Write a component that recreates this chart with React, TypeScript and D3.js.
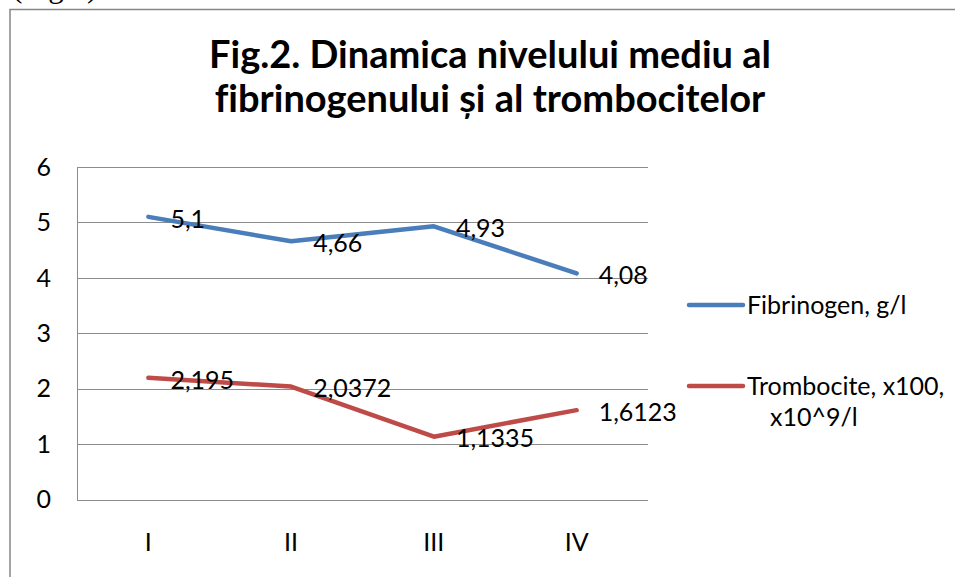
import React, { useEffect, useRef } from "react";
import * as d3 from "d3";

const categories = ["I", "II", "III", "IV"];
const fibrinogen = [5.1, 4.66, 4.93, 4.08];
const trombocite = [2.195, 2.0372, 1.1335, 1.6123];
const yTicks = [0, 1, 2, 3, 4, 5, 6];
const titleLines = ["Fig.2. Dinamica nivelului mediu al", "fibrinogenului și al trombocitelor"];
const seriesNames = ["Fibrinogen, g/l", "Trombocite, x100,"];

const FONT = "Lato, 'Open Sans', sans-serif";

function App() {
  const svgRef = useRef<SVGSVGElement>(null);

  useEffect(() => {
    const width = 955;
    const height = 577;
    const plot = { left: 77, right: 648, top: 167, bottom: 499.5 };

    const svg = d3.select(svgRef.current);
    svg.selectAll("*").remove();
    svg.attr("width", width).attr("height", height);

    svg.append("rect").attr("width", width).attr("height", height).attr("fill", "#fff");

    // text of the page above the figure, cut by the crop
    svg
      .append("text")
      .attr("x", 12)
      .attr("y", -3)
      .attr("font-family", "'Liberation Serif', 'Times New Roman', serif")
      .attr("font-size", 31)
      .attr("fill", "#000")
      .text("(Fig.2)");

    // chart frame
    svg
      .append("rect")
      .attr("x", 10)
      .attr("y", 9.5)
      .attr("width", 1000)
      .attr("height", 1000)
      .attr("fill", "none")
      .attr("stroke", "#868686")
      .attr("stroke-width", 1.5);

    // title
    svg
      .append("g")
      .selectAll("text")
      .data(titleLines)
      .enter()
      .append("text")
      .attr("x", 490)
      .attr("y", (d, i) => 68 + i * 44)
      .attr("text-anchor", "middle")
      .attr("font-family", FONT)
      .attr("font-weight", "bold")
      .attr("font-size", 38)
      .style("font-variant-ligatures", "none")
      .attr("fill", "#000")
      .text((d) => d);

    const x = d3
      .scalePoint()
      .domain(categories)
      .range([plot.left, plot.right])
      .padding(0.5);

    const y = d3.scaleLinear().domain([0, 6]).range([plot.bottom, plot.top]);

    // gridlines
    svg
      .append("g")
      .selectAll("line")
      .data(yTicks.filter((t) => t > 0))
      .enter()
      .append("line")
      .attr("x1", plot.left)
      .attr("x2", plot.right)
      .attr("y1", (d) => Math.round(y(d)) + 0.5)
      .attr("y2", (d) => Math.round(y(d)) + 0.5)
      .attr("stroke", "#8c8c8c")
      .attr("stroke-width", 1);

    // axes lines
    svg
      .append("line")
      .attr("x1", plot.left + 0.5)
      .attr("x2", plot.left + 0.5)
      .attr("y1", Math.round(y(6)) + 0.5)
      .attr("y2", Math.round(y(0)) + 0.5)
      .attr("stroke", "#8c8c8c");
    svg
      .append("line")
      .attr("x1", plot.left)
      .attr("x2", plot.right)
      .attr("y1", Math.round(y(0)) + 0.5)
      .attr("y2", Math.round(y(0)) + 0.5)
      .attr("stroke", "#8c8c8c");

    // y tick labels
    svg
      .append("g")
      .selectAll("text")
      .data(yTicks)
      .enter()
      .append("text")
      .attr("x", 51)
      .attr("y", (d) => y(d))
      .attr("dy", "0.35em")
      .attr("text-anchor", "end")
      .attr("font-family", FONT)
      .attr("font-size", 25)
      .attr("fill", "#000")
      .text((d) => d);

    // x tick labels
    svg
      .append("g")
      .selectAll("text")
      .data(categories)
      .enter()
      .append("text")
      .attr("x", (d) => x(d)!)
      .attr("y", 542)
      .attr("dy", "0.35em")
      .attr("text-anchor", "middle")
      .attr("font-family", FONT)
      .attr("font-size", 25)
      .attr("fill", "#000")
      .text((d) => d);

    const colors = ["#4a7ebb", "#be4b48"];
    const series = [fibrinogen, trombocite];

    const line = d3
      .line<number>()
      .x((d, i) => x(categories[i])!)
      .y((d) => y(d));

    series.forEach((values, si) => {
      svg
        .append("path")
        .datum(values)
        .attr("d", line)
        .attr("fill", "none")
        .attr("stroke", colors[si])
        .attr("stroke-width", 4.5)
        .attr("stroke-linecap", "round")
        .attr("stroke-linejoin", "round");

      // data labels, to the right of each point
      svg
        .append("g")
        .selectAll("text")
        .data(values)
        .enter()
        .append("text")
        .attr("x", (d, i) => x(categories[i])! + 22)
        .attr("y", (d) => y(d) + 2)
        .attr("dy", "0.35em")
        .attr("font-family", FONT)
        .attr("font-size", 25)
        .attr("fill", "#000")
        .text((d) => String(d).replace(".", ","));
    });

    // legend
    const legendY = [305, 386];
    const legend = svg.append("g");
    seriesNames.forEach((name, i) => {
      legend
        .append("line")
        .attr("x1", 689)
        .attr("x2", 743)
        .attr("y1", legendY[i])
        .attr("y2", legendY[i])
        .attr("stroke", colors[i])
        .attr("stroke-width", 4.5)
        .attr("stroke-linecap", "round");
      legend
        .append("text")
        .attr("x", 747)
        .attr("y", legendY[i])
        .attr("dy", "0.35em")
        .attr("font-family", FONT)
        .attr("font-size", 25)
        .attr("fill", "#000")
        .text(name);
    });
    legend
      .append("text")
      .attr("x", 770)
      .attr("y", 417)
      .attr("dy", "0.35em")
      .attr("font-family", FONT)
      .attr("font-size", 25)
      .attr("fill", "#000")
      .text("x10^9/l");
  }, []);

  return (
    <svg
      ref={svgRef}
      style={{ position: "absolute", left: 0, top: 0, display: "block" }}
    ></svg>
  );
}

export default App;
